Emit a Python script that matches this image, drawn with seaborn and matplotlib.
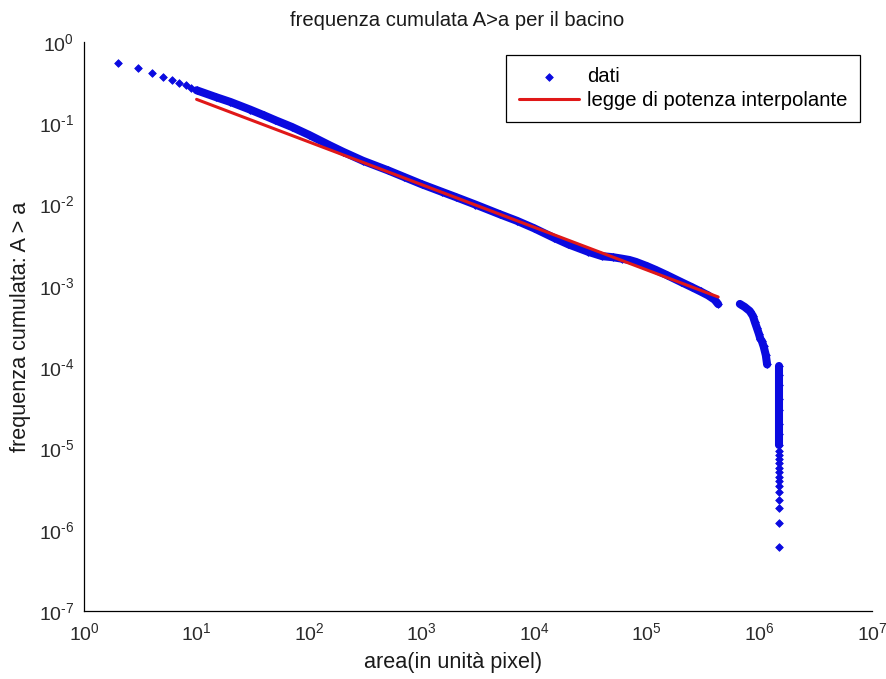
import numpy as np
import pandas as pd
import matplotlib
matplotlib.use("Agg")
import matplotlib.pyplot as plt
import seaborn as sns
from matplotlib.ticker import FixedLocator, NullFormatter, FuncFormatter

# ---- data: cumulative frequency of drainage area (A > a) ----
# isolated small-area points
area_small = [2, 3, 4, 5, 6, 7, 8, 9]
freq_small = [0.55, 0.475, 0.415, 0.375, 0.342, 0.313, 0.295, 0.275]

# dense run of points from a = 10 up to the gap
area_band = [10, 15, 20, 30, 40, 50, 70, 100, 150, 200, 300, 500, 700,
             1000, 1500, 2000, 3000, 5000, 7000, 1e4, 1.5e4, 2e4, 3e4,
             4e4, 5e4, 6e4, 7e4, 8e4, 1e5, 1.2e5, 1.5e5, 2e5, 2.5e5,
             3e5, 3.5e5, 4e5, 4.3e5]
freq_band = [0.2547, 0.2089, 0.1828, 0.147, 0.1247, 0.1092, 0.0903, 0.0718,
             0.0541, 0.0446, 0.0346, 0.0264, 0.0218, 0.0178, 0.0144, 0.0124,
             0.0100, 0.00755, 0.00632, 0.0051, 0.00389, 0.00325, 0.00263,
             0.00232, 0.00225, 0.00216, 0.00208, 0.00197, 0.00175, 0.00157,
             0.00136, 0.00112, 0.000966, 0.000853, 0.000764, 0.000675,
             0.000596]

# large basins after the gap
area_bend = [6.7e5, 7.4e5, 8.2e5, 8.75e5, 9.1e5, 9.5e5, 9.9e5, 1.02e6]
freq_bend = [5.99e-4, 5.5e-4, 4.9e-4, 4.26e-4, 3.6e-4, 3.03e-4, 2.56e-4,
             2.22e-4]
area_step = [1.05e6, 1.09e6, 1.14e6, 1.17e6]
freq_step = [2.1e-4, 1.8e-4, 1.4e-4, 1.08e-4]

# pixels draining (almost) the whole basin, near the outlet
area_outlet = [1.5e6] * 8
freq_outlet = [1.04e-4, 8e-5, 6e-5, 4e-5, 3e-5, 2e-5, 1.5e-5, 1.1e-5]
area_outlet_tail = [1.5e6] * 14
freq_outlet_tail = [9.31e-6, 8.32e-6, 7.43e-6, 6.58e-6, 5.81e-6, 5.19e-6,
                    4.5e-6, 4.01e-6, 3.49e-6, 2.94e-6, 2.33e-6, 1.84e-6,
                    1.22e-6, 6.1e-7]

# interpolating power law, drawn between its end points
fit_area = [10, 4.3e5]
fit_freq = [0.197, 7.3e-4]

segments = {
    "small": (area_small, freq_small),
    "band": (area_band, freq_band),
    "bend": (area_bend, freq_bend),
    "step": (area_step, freq_step),
    "outlet": (area_outlet, freq_outlet),
    "outlet_tail": (area_outlet_tail, freq_outlet_tail),
}
points = pd.concat(
    [pd.DataFrame({"area": a, "freq": f, "segment": name})
     for name, (a, f) in segments.items()],
    ignore_index=True,
)
runs = points[points["segment"].isin(["band", "bend", "step", "outlet"])]
fit = pd.DataFrame({"area": fit_area, "freq": fit_freq})

# ---- style ----
sns.set_theme(style="white")
plt.rcParams["font.family"] = ["Liberation Sans", "DejaVu Sans"]
plt.rcParams["mathtext.fontset"] = "custom"
plt.rcParams["mathtext.rm"] = "Liberation Sans"
plt.rcParams["mathtext.it"] = "Liberation Sans"
plt.rcParams["mathtext.bf"] = "Liberation Sans"

fs_title = 14.6
fs_label = 15.6
fs_legend = 14.6
fs_tick = 14.0

BLUE = "#0a0ae0"
RED = "#e01818"
TXT = "#1a1a1a"

W, H = 886, 679
fig = plt.figure(figsize=(W / 100, H / 100), dpi=100)
ax_l, ax_r, ax_t, ax_b = 84, 872, 42, 611
ax = fig.add_axes([ax_l / W, 1 - ax_b / H, (ax_r - ax_l) / W, (ax_b - ax_t) / H])
ax.set_xscale("log")
ax.set_yscale("log")
ax.set_facecolor("white")

# continuous runs of overlapping markers
sns.lineplot(data=runs, x="area", y="freq", units="segment", estimator=None,
             sort=False, color=BLUE, linewidth=5.8, legend=False, ax=ax,
             solid_capstyle="round", zorder=2)
# every data point as a diamond
sns.scatterplot(data=points, x="area", y="freq", marker="D", s=15,
                color=BLUE, edgecolor=BLUE, linewidth=0.6, label="dati",
                ax=ax, zorder=2)
# power-law fit
sns.lineplot(data=fit, x="area", y="freq", color=RED, linewidth=2.2,
             label="legge di potenza interpolante", ax=ax, zorder=3)

for side in ["top", "right"]:
    ax.spines[side].set_visible(False)
for side in ["left", "bottom"]:
    ax.spines[side].set_color("black")
    ax.spines[side].set_linewidth(0.9)


def decade_label(v, pos):
    e = int(round(np.log10(v)))
    if e < 0:
        return r"$\mathdefault{10^{\text{-}%d}}$" % (-e)
    return r"$\mathdefault{10^{%d}}$" % e


x_dec = np.arange(0, 8)
y_dec = np.arange(-7, 1)
ax.xaxis.set_major_locator(FixedLocator(10.0 ** x_dec))
ax.yaxis.set_major_locator(FixedLocator(10.0 ** y_dec))
ax.xaxis.set_minor_locator(FixedLocator(
    [k * 10.0 ** d for d in x_dec[:-1] for k in range(2, 10)]))
ax.yaxis.set_minor_locator(FixedLocator(
    [k * 10.0 ** d for d in y_dec[:-1] for k in range(2, 10)]))
for axis in (ax.xaxis, ax.yaxis):
    axis.set_minor_formatter(NullFormatter())
    axis.set_major_formatter(FuncFormatter(decade_label))

ax.tick_params(axis="both", which="both", direction="in", colors="black",
               labelcolor="#2a2a2a", labelsize=fs_tick, width=0.8)
ax.tick_params(axis="both", which="major", length=6)
ax.tick_params(axis="both", which="minor", length=3.5)
ax.tick_params(axis="x", which="major", pad=8)
ax.tick_params(axis="y", which="major", pad=7)
ax.set_xlim(1, 1e7)
ax.set_ylim(1e-7, 1)

ax.set_title("frequenza cumulata A>a per il bacino", fontsize=fs_title,
             color=TXT, x=(457 - ax_l) / (ax_r - ax_l),
             y=1 + (ax_t - 20) / (ax_b - ax_t), va="center", pad=0)
ax.set_xlabel("area(in unità pixel)", fontsize=fs_label, color=TXT)
ax.xaxis.set_label_coords((453 - ax_l) / (ax_r - ax_l),
                          -(652 - ax_b) / (ax_b - ax_t))
ax.set_ylabel("frequenza cumulata: A > a", fontsize=fs_label, color=TXT)
ax.yaxis.set_label_coords(-(ax_l - 31) / (ax_r - ax_l), 0.5)

handles, labels = ax.get_legend_handles_labels()
leg = ax.legend(handles, labels, loc="upper right",
                bbox_to_anchor=(860 / W, 1 - 55 / H),
                bbox_transform=fig.transFigure, borderaxespad=0,
                fontsize=fs_legend, frameon=True, fancybox=False,
                framealpha=1, edgecolor="black", handlelength=3.0,
                handletextpad=0.4, borderpad=0.6, labelspacing=0.25,
                scatterpoints=1)
leg.get_frame().set_linewidth(0.9)
for t in leg.get_texts():
    t.set_color("black")

fig.savefig("out.png", dpi=100, facecolor="white")
